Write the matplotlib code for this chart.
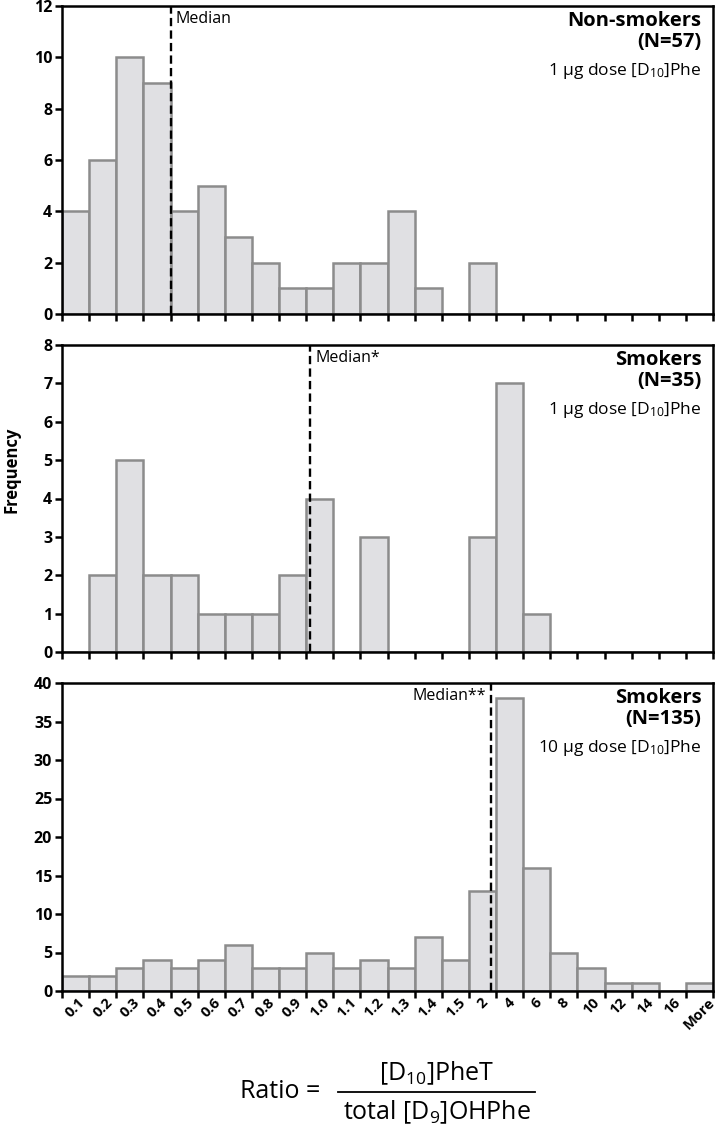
import matplotlib
matplotlib.use("Agg")
import matplotlib.pyplot as plt
from matplotlib.lines import Line2D

plt.rcParams['font.family'] = ['Open Sans', 'DejaVu Sans']
plt.rcParams['mathtext.fontset'] = 'custom'
plt.rcParams['mathtext.rm'] = 'Open Sans'
plt.rcParams['mathtext.it'] = 'Open Sans'
plt.rcParams['mathtext.bf'] = 'Open Sans:bold'
plt.rcParams['mathtext.default'] = 'rm'

# --- data ---
bins = ["0.1", "0.2", "0.3", "0.4", "0.5", "0.6", "0.7", "0.8", "0.9", "1.0",
        "1.1", "1.2", "1.3", "1.4", "1.5", "2", "4", "6", "8", "10", "12",
        "14", "16", "More"]

nonsmokers_1ug = [4, 6, 10, 9, 4, 5, 3, 2, 1, 1, 2, 2, 4, 1, 0, 2, 0, 0, 0, 0, 0, 0, 0, 0]
smokers_1ug = [0, 2, 5, 2, 2, 1, 1, 1, 2, 4, 0, 3, 0, 0, 0, 3, 7, 1, 0, 0, 0, 0, 0, 0]
smokers_10ug = [2, 2, 3, 4, 3, 4, 6, 3, 3, 5, 3, 4, 3, 7, 4, 13, 38, 16, 5, 3, 1, 1, 0, 1]

# median position in bin units (bin i spans i..i+1)
medians = [4.0, 9.15, 15.83]
median_labels = ["Median", "Median*", "Median**"]
titles = ["Non-smokers\n(N=57)", "Smokers\n(N=35)", "Smokers\n(N=135)"]
doses = ["1 µg dose [D$_{10}$]Phe", "1 µg dose [D$_{10}$]Phe", "10 µg dose [D$_{10}$]Phe"]
ymax = [12, 8, 40]
ystep = [2, 1, 5]

# --- plot ---
fig = plt.figure(figsize=(7.17, 11.26), dpi=100)
W, H = 717, 1126
left, right = 62 / W, 713 / W
panels = [(6, 314), (345, 652), (683, 991)]

series = [nonsmokers_1ug, smokers_1ug, smokers_10ug]
n = len(bins)
for k, (top, bot) in enumerate(panels):
    ax = fig.add_axes([left, 1 - bot / H, right - left, (bot - top) / H])
    ax.bar(range(n), series[k], width=1, align='edge', color='#e0e0e3',
           edgecolor='#8c8c8c', linewidth=1.8, zorder=2)
    ax.set_xlim(0, n)
    ax.set_ylim(0, ymax[k])
    ax.set_yticks(range(0, ymax[k] + 1, ystep[k]))
    ax.set_xticks(range(n + 1))
    ax.set_xticklabels([])
    ax.set_xticks([i + 0.5 for i in range(n)], minor=True)
    if k == 2:
        ax.set_xticklabels(bins, minor=True, rotation=45, ha='center',
                           fontweight='bold', fontsize=10.5)
    ax.tick_params(axis='x', which='minor', length=0, pad=3)
    ax.tick_params(axis='both', which='major', direction='out', length=5,
                   width=1.8, color='black')
    ax.tick_params(axis='y', labelsize=11.5, pad=2)
    for lab in ax.get_yticklabels():
        lab.set_fontweight('bold')
    for sp in ax.spines.values():
        sp.set_linewidth(1.8)

    m = medians[k]
    ax.axvline(m, color='black', linestyle=(0, (3.5, 1.8)), linewidth=1.7, zorder=3)
    if k < 2:
        ax.text(m + 0.2, ymax[k] * 0.985, median_labels[k], ha='left', va='top',
                fontsize=11.5)
    else:
        ax.text(m - 0.2, ymax[k] * 0.985, median_labels[k], ha='right', va='top',
                fontsize=11.5)

    ax.text(0.982, 0.985, titles[k], transform=ax.transAxes, ha='right', va='top',
            fontsize=14.5, fontweight='bold', linespacing=1.1)
    ax.text(0.982, 0.82, doses[k], transform=ax.transAxes, ha='right', va='top',
            fontsize=12.5)

fig.text(12 / W, 1 - 470 / H, "Frequency", rotation=90, ha='center', va='center',
         fontsize=12, fontweight='bold')

# --- ratio formula ---
fig.text(240 / W, 1 - 1092 / H, "Ratio =", ha='left', va='center', fontsize=18)
fig.text(437 / W, 1 - 1073 / H, "[D$_{10}$]PheT", ha='center', va='center', fontsize=18)
fig.text(437 / W, 1 - 1112 / H, "total [D$_{9}$]OHPhe", ha='center', va='center', fontsize=18)
fig.add_artist(Line2D([338 / W, 535 / W], [1 - 1092 / H, 1 - 1092 / H],
                      color='black', linewidth=1.3))

fig.savefig("out.png", dpi=100)
